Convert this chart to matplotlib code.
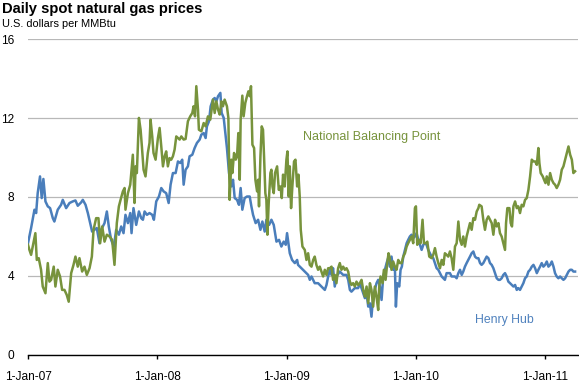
import numpy as np
import pandas as pd
import matplotlib
matplotlib.use("Agg")
import matplotlib.pyplot as plt

plt.rcParams['font.family'] = ['Liberation Sans', 'DejaVu Sans']

# (years since 1-Jan-2007, $/MMBtu)
hh_points = [
    (0.000, 5.65), (0.024, 6.42), (0.050, 7.35), (0.063, 7.18), (0.075, 8.19), (0.093, 9.04),
    (0.106, 7.94), (0.119, 8.91), (0.135, 7.77), (0.153, 7.52), (0.171, 7.43), (0.192, 6.92),
    (0.204, 6.75), (0.230, 7.35), (0.256, 7.60), (0.269, 7.85), (0.295, 7.43), (0.321, 7.69),
    (0.346, 7.77), (0.367, 7.82), (0.385, 7.55), (0.411, 7.72), (0.424, 7.85), (0.445, 7.60),
    (0.463, 7.18), (0.481, 6.67), (0.496, 6.24), (0.514, 6.33), (0.532, 6.42), (0.553, 5.65),
    (0.566, 6.33), (0.592, 6.67), (0.610, 7.26), (0.625, 6.50), (0.643, 5.82), (0.664, 5.48),
    (0.682, 6.33), (0.703, 6.08), (0.721, 6.50), (0.739, 6.16), (0.754, 7.09), (0.773, 6.67),
    (0.791, 7.18), (0.801, 6.16), (0.816, 7.43), (0.837, 6.58), (0.858, 7.26), (0.876, 6.92),
    (0.889, 6.84), (0.902, 7.26), (0.920, 7.09), (0.940, 7.18), (0.961, 7.09), (0.974, 6.84),
    (0.992, 7.77), (1.013, 8.02), (1.031, 8.45), (1.049, 8.28), (1.069, 8.19), (1.088, 7.69),
    (1.103, 8.62), (1.121, 9.21), (1.142, 9.21), (1.160, 9.80), (1.178, 9.72), (1.193, 9.89),
    (1.204, 8.62), (1.219, 9.38), (1.237, 9.55), (1.250, 10.06), (1.271, 10.14), (1.289, 10.48),
    (1.307, 10.74), (1.328, 10.91), (1.341, 11.16), (1.359, 11.24), (1.374, 10.99), (1.384, 11.58),
    (1.400, 11.84), (1.413, 12.60), (1.431, 12.94), (1.444, 13.02), (1.457, 12.85), (1.470, 13.11),
    (1.488, 13.28), (1.498, 12.26), (1.514, 12.01), (1.529, 11.07), (1.539, 10.48), (1.555, 9.21),
    (1.573, 8.53), (1.586, 8.87), (1.599, 7.94), (1.617, 7.85), (1.632, 7.60), (1.645, 8.45),
    (1.658, 7.35), (1.676, 7.94), (1.694, 8.02), (1.715, 8.02), (1.728, 7.52), (1.741, 7.09),
    (1.761, 6.67), (1.780, 6.84), (1.798, 6.33), (1.813, 6.75), (1.831, 6.24), (1.844, 6.84),
    (1.865, 6.58), (1.883, 6.84), (1.901, 6.58), (1.922, 5.73), (1.942, 5.82), (1.960, 5.48),
    (1.978, 5.73), (1.994, 5.57), (2.004, 6.16), (2.025, 5.14), (2.043, 4.80), (2.064, 4.64),
    (2.082, 4.80), (2.089, 4.55), (2.115, 4.38), (2.141, 4.21), (2.167, 4.04), (2.180, 3.79),
    (2.193, 3.96), (2.218, 3.62), (2.244, 3.62), (2.270, 3.45), (2.296, 3.28), (2.309, 3.53),
    (2.322, 3.96), (2.335, 4.30), (2.348, 4.04), (2.360, 4.38), (2.373, 3.45), (2.386, 3.96),
    (2.412, 4.21), (2.438, 4.04), (2.464, 4.04), (2.477, 3.79), (2.490, 3.28), (2.502, 3.19),
    (2.528, 3.37), (2.554, 3.37), (2.567, 3.62), (2.593, 3.11), (2.606, 2.86), (2.619, 3.11),
    (2.632, 2.43), (2.645, 2.60), (2.657, 1.92), (2.670, 2.94), (2.683, 3.28), (2.696, 3.62),
    (2.709, 3.79), (2.722, 3.45), (2.735, 2.77), (2.748, 3.96), (2.761, 4.30), (2.774, 4.64),
    (2.786, 4.89), (2.799, 4.46), (2.812, 4.97), (2.825, 4.30), (2.838, 4.46), (2.846, 2.43),
    (2.856, 3.62), (2.872, 3.45), (2.882, 4.30), (2.892, 4.46), (2.903, 4.97), (2.916, 5.31),
    (2.929, 5.65), (2.941, 5.82), (2.954, 5.99), (2.967, 6.08), (2.980, 5.91), (2.993, 5.99),
    (3.006, 6.16), (3.019, 5.82), (3.032, 5.57), (3.045, 5.31), (3.058, 5.57), (3.070, 5.65),
    (3.083, 5.57), (3.096, 5.31), (3.109, 5.14), (3.122, 4.97), (3.135, 4.89), (3.148, 4.64),
    (3.161, 4.38), (3.174, 4.30), (3.187, 4.13), (3.200, 3.96), (3.225, 3.79), (3.238, 4.13),
    (3.264, 4.13), (3.277, 3.96), (3.303, 3.96), (3.316, 3.87), (3.329, 4.13), (3.342, 4.30),
    (3.355, 4.04), (3.367, 4.21), (3.380, 4.46), (3.393, 4.64), (3.406, 4.80), (3.419, 4.97),
    (3.432, 5.14), (3.445, 5.23), (3.458, 4.97), (3.471, 4.89), (3.484, 4.89), (3.497, 4.64),
    (3.509, 4.55), (3.522, 4.64), (3.535, 4.80), (3.548, 4.97), (3.561, 4.89), (3.574, 4.64),
    (3.587, 4.55), (3.600, 4.38), (3.613, 4.13), (3.626, 3.87), (3.639, 3.79), (3.651, 3.79),
    (3.664, 3.87), (3.677, 4.04), (3.690, 4.13), (3.703, 3.96), (3.716, 3.70), (3.729, 3.62),
    (3.755, 3.45), (3.768, 3.53), (3.781, 3.28), (3.793, 3.37), (3.806, 3.28), (3.819, 3.45),
    (3.832, 3.62), (3.845, 3.87), (3.858, 3.96), (3.871, 4.21), (3.884, 4.30), (3.897, 4.46),
    (3.910, 4.55), (3.923, 4.38), (3.936, 4.13), (3.948, 4.30), (3.961, 4.46), (3.974, 4.64),
    (3.987, 4.46), (4.000, 4.55), (4.013, 4.72), (4.026, 4.46), (4.039, 4.55), (4.052, 4.72),
    (4.065, 4.46), (4.077, 4.13), (4.090, 3.96), (4.103, 3.87), (4.116, 3.96), (4.129, 3.87),
    (4.142, 3.79), (4.155, 3.87), (4.168, 4.04), (4.181, 4.21), (4.194, 4.30), (4.207, 4.30),
    (4.219, 4.21), (4.232, 4.21),
]

nbp_points = [
    (0.000, 5.57), (0.011, 5.31), (0.024, 5.06), (0.042, 5.65), (0.057, 6.16), (0.068, 4.80),
    (0.083, 4.89), (0.101, 4.30), (0.114, 3.45), (0.135, 3.11), (0.153, 4.64), (0.166, 3.70),
    (0.179, 3.79), (0.199, 4.46), (0.212, 3.45), (0.230, 4.30), (0.248, 3.96), (0.264, 3.28),
    (0.282, 3.28), (0.300, 3.02), (0.315, 2.68), (0.334, 4.13), (0.352, 4.55), (0.367, 4.97),
    (0.385, 4.46), (0.398, 4.89), (0.419, 4.21), (0.437, 4.46), (0.455, 4.04), (0.476, 4.38),
    (0.494, 4.97), (0.507, 6.33), (0.527, 6.92), (0.545, 6.92), (0.558, 5.65), (0.574, 6.50),
    (0.592, 5.73), (0.610, 6.08), (0.631, 5.99), (0.651, 5.82), (0.669, 4.55), (0.687, 6.67),
    (0.703, 7.52), (0.716, 7.85), (0.734, 8.28), (0.747, 8.45), (0.754, 7.35), (0.773, 8.19),
    (0.791, 8.62), (0.811, 10.14), (0.824, 7.69), (0.832, 9.55), (0.842, 9.21), (0.858, 12.01),
    (0.871, 11.41), (0.881, 10.56), (0.894, 9.38), (0.909, 9.04), (0.927, 10.23), (0.940, 10.74),
    (0.948, 11.92), (0.961, 11.07), (0.971, 10.23), (0.987, 9.89), (1.005, 10.99), (1.018, 11.50),
    (1.031, 10.56), (1.044, 9.55), (1.057, 10.06), (1.069, 10.31), (1.082, 9.55), (1.095, 9.97),
    (1.108, 9.89), (1.121, 10.06), (1.134, 10.40), (1.147, 11.07), (1.160, 10.99), (1.173, 10.91),
    (1.186, 11.07), (1.204, 10.91), (1.219, 10.94), (1.237, 11.84), (1.255, 12.09), (1.271, 12.26),
    (1.281, 12.60), (1.292, 12.09), (1.302, 13.62), (1.315, 12.43), (1.322, 11.41), (1.341, 11.33),
    (1.359, 11.75), (1.374, 11.58), (1.392, 12.09), (1.410, 11.92), (1.431, 12.94), (1.444, 12.26),
    (1.457, 12.85), (1.470, 12.43), (1.483, 12.18), (1.496, 12.85), (1.508, 12.60), (1.521, 12.94),
    (1.539, 12.60), (1.550, 12.01), (1.560, 7.85), (1.573, 9.89), (1.581, 9.21), (1.594, 10.23),
    (1.607, 9.89), (1.617, 10.06), (1.627, 11.24), (1.638, 8.87), (1.645, 11.92), (1.658, 13.14),
    (1.668, 12.09), (1.681, 12.77), (1.694, 13.11), (1.705, 13.36), (1.715, 13.11), (1.725, 13.62),
    (1.736, 10.65), (1.749, 10.48), (1.759, 8.87), (1.772, 8.28), (1.780, 8.87), (1.787, 7.52),
    (1.798, 10.06), (1.808, 11.58), (1.818, 11.41), (1.826, 10.06), (1.836, 8.19), (1.844, 7.85),
    (1.852, 6.08), (1.862, 7.69), (1.875, 9.21), (1.883, 9.38), (1.891, 8.53), (1.901, 8.19),
    (1.911, 9.21), (1.927, 9.55), (1.940, 8.36), (1.953, 8.53), (1.963, 7.94), (1.973, 9.13),
    (1.986, 8.53), (1.999, 9.89), (2.007, 10.31), (2.017, 8.02), (2.025, 9.55), (2.035, 7.43),
    (2.045, 8.53), (2.058, 9.80), (2.069, 9.89), (2.082, 8.53), (2.092, 9.13), (2.102, 8.02),
    (2.110, 6.33), (2.123, 5.48), (2.141, 5.31), (2.154, 4.80), (2.167, 5.14), (2.180, 4.55),
    (2.193, 4.46), (2.206, 4.80), (2.218, 4.97), (2.231, 4.55), (2.244, 4.30), (2.257, 4.46),
    (2.270, 4.21), (2.283, 3.96), (2.296, 4.30), (2.309, 4.04), (2.322, 4.38), (2.335, 4.38),
    (2.348, 4.46), (2.360, 3.79), (2.373, 4.04), (2.386, 3.62), (2.399, 4.38), (2.412, 4.64),
    (2.425, 4.30), (2.438, 4.46), (2.451, 4.30), (2.464, 4.38), (2.477, 4.21), (2.490, 3.70),
    (2.502, 3.53), (2.515, 3.62), (2.528, 3.45), (2.541, 3.70), (2.554, 3.53), (2.567, 3.62),
    (2.580, 3.79), (2.593, 3.28), (2.606, 2.94), (2.619, 3.45), (2.632, 2.60), (2.645, 3.62),
    (2.657, 3.28), (2.670, 2.43), (2.683, 3.45), (2.696, 2.94), (2.709, 2.26), (2.717, 3.45),
    (2.727, 3.96), (2.743, 3.62), (2.753, 4.30), (2.766, 3.79), (2.779, 4.64), (2.789, 5.14),
    (2.799, 4.89), (2.812, 4.30), (2.825, 4.72), (2.838, 4.46), (2.851, 4.30), (2.864, 4.80),
    (2.877, 4.64), (2.890, 4.64), (2.903, 4.97), (2.916, 5.14), (2.929, 5.48), (2.941, 5.65),
    (2.954, 5.82), (2.967, 5.99), (2.980, 5.65), (2.993, 7.43), (3.001, 7.52), (3.011, 5.57),
    (3.027, 5.82), (3.037, 5.65), (3.052, 6.84), (3.063, 5.65), (3.078, 5.65), (3.089, 5.73),
    (3.104, 4.97), (3.122, 4.89), (3.135, 5.06), (3.148, 5.40), (3.161, 4.97), (3.174, 4.64),
    (3.187, 4.38), (3.200, 4.80), (3.213, 4.55), (3.225, 5.14), (3.238, 5.06), (3.251, 4.97),
    (3.264, 5.23), (3.277, 4.89), (3.290, 4.30), (3.303, 5.48), (3.316, 5.65), (3.329, 6.75),
    (3.342, 5.82), (3.355, 5.57), (3.367, 5.99), (3.380, 5.48), (3.393, 5.99), (3.406, 6.33),
    (3.419, 6.67), (3.432, 6.33), (3.445, 6.92), (3.458, 6.84), (3.471, 7.26), (3.484, 7.43),
    (3.491, 7.60), (3.509, 7.52), (3.522, 6.84), (3.535, 6.33), (3.548, 6.84), (3.561, 7.01),
    (3.574, 6.84), (3.587, 6.67), (3.600, 6.08), (3.613, 6.84), (3.626, 6.50), (3.639, 6.67),
    (3.651, 6.16), (3.664, 5.99), (3.677, 5.65), (3.690, 5.31), (3.698, 6.67), (3.708, 7.43),
    (3.724, 7.43), (3.734, 6.67), (3.744, 6.50), (3.755, 7.52), (3.768, 7.77), (3.781, 7.43),
    (3.793, 7.52), (3.806, 7.18), (3.819, 7.60), (3.832, 7.52), (3.845, 7.85), (3.858, 7.94),
    (3.871, 8.36), (3.884, 9.04), (3.897, 9.89), (3.910, 9.80), (3.923, 9.80), (3.936, 9.63),
    (3.948, 10.48), (3.956, 9.72), (3.966, 9.21), (3.982, 9.04), (3.992, 8.87), (4.003, 8.70),
    (4.013, 9.04), (4.026, 8.62), (4.039, 9.21), (4.052, 8.87), (4.065, 8.70), (4.077, 8.62),
    (4.090, 8.45), (4.103, 8.62), (4.116, 8.87), (4.129, 9.38), (4.142, 9.55), (4.155, 9.89),
    (4.168, 10.23), (4.181, 10.56), (4.194, 10.14), (4.207, 9.89), (4.219, 9.21), (4.232, 9.30),
]

y_ticks = [0, 4, 8, 12, 16]
x_tick_dates = ['2007-01-01', '2008-01-01', '2009-01-01', '2010-01-01', '2011-01-01']
x_tick_labels = ['1-Jan-07', '1-Jan-08', '1-Jan-09', '1-Jan-10', '1-Jan-11']

BLUE = '#4A7EBB'
GREEN = '#77933C'
BASE = pd.Timestamp('2007-01-01')


def to_dates(points):
    t, v = zip(*points)
    d = BASE + pd.to_timedelta(np.array(t) * 365.25, unit='D')
    return d, np.array(v)


hh_d, hh_v = to_dates(hh_points)
nbp_d, nbp_v = to_dates(nbp_points)

fig = plt.figure(figsize=(5.79, 3.83), dpi=100)
ax = fig.add_axes([28 / 579, 28.5 / 383, 550 / 579, 315.2 / 383])

ax.plot(hh_d, hh_v, color=BLUE, lw=1.8, solid_joinstyle='round')
ax.plot(nbp_d, nbp_v, color=GREEN, lw=1.8, solid_joinstyle='round')

ax.set_ylim(0, 16)
ax.set_xlim(BASE, pd.Timestamp('2011-04-04'))
ax.set_yticks(y_ticks)
ax.set_xticks(pd.to_datetime(x_tick_dates))
ax.set_xticklabels(x_tick_labels)

ax.yaxis.grid(True, color='#B8B8B8', lw=0.9)
ax.set_axisbelow(True)
for s in ['top', 'right', 'left']:
    ax.spines[s].set_visible(False)
ax.spines['bottom'].set_color('black')
ax.spines['bottom'].set_linewidth(1.0)

ax.tick_params(axis='y', length=0, pad=10, labelsize=8.6, colors='black')
ax.tick_params(axis='x', length=3, width=1, direction='out', pad=9, labelsize=8.6, colors='black')

ax.text(pd.Timestamp('2009-02-16'), 10.9, 'National Balancing Point', color=GREEN,
        fontsize=9.0, va='baseline', ha='left')
ax.text(pd.Timestamp('2010-06-16'), 1.6, 'Henry Hub', color='#4F81BD',
        fontsize=8.8, va='baseline', ha='left')

fig.text(2 / 579, 1 - 13.3 / 383, 'Daily spot natural gas prices', fontsize=10.6,
         fontweight='bold', va='baseline', ha='left')
fig.text(2 / 579, 1 - 26.7 / 383, 'U.S. dollars per MMBtu', fontsize=7.9,
         va='baseline', ha='left')

fig.savefig('out.png', dpi=100)
